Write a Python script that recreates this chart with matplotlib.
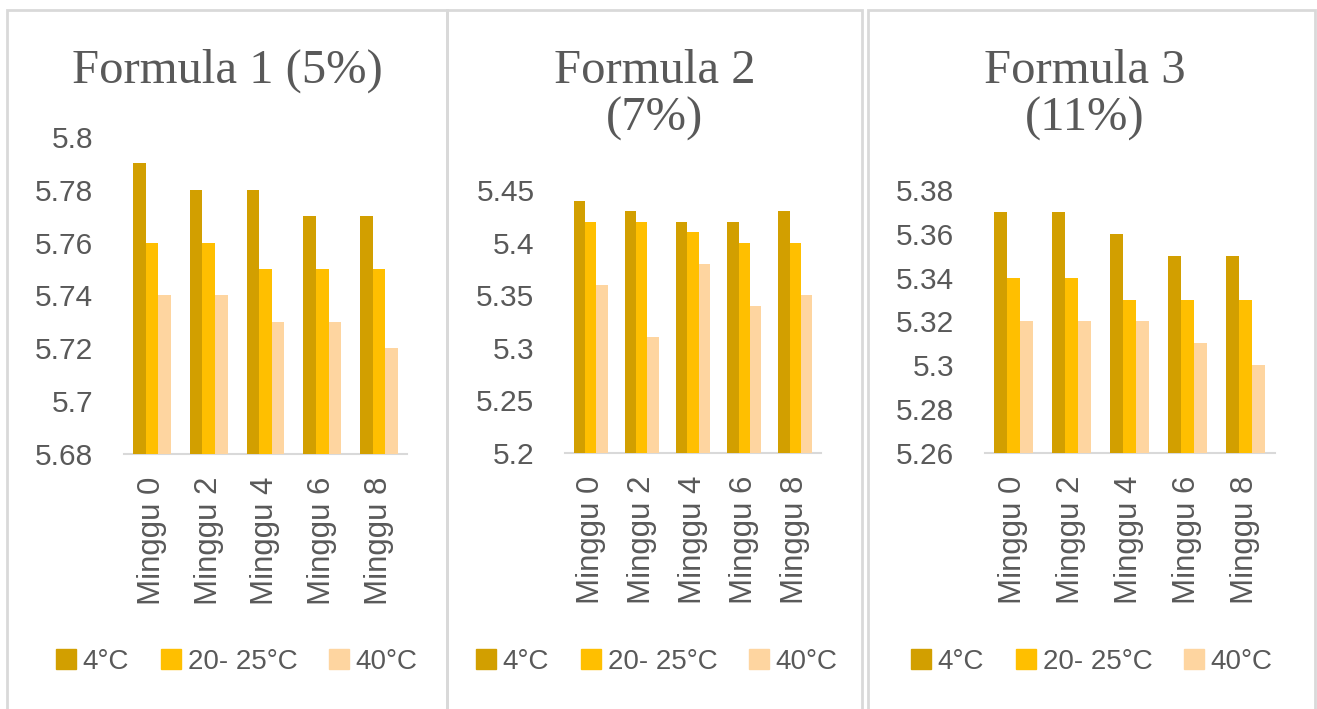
import matplotlib
matplotlib.use('Agg')
import matplotlib.pyplot as plt
import matplotlib.patches as patches
from matplotlib.lines import Line2D
import numpy as np

# data
weeks = ['Minggu 0', 'Minggu 2', 'Minggu 4', 'Minggu 6', 'Minggu 8']
series_names = ['4°C', '20- 25°C', '40°C']
titles = ['Formula 1 (5%)', 'Formula 2\n(7%)', 'Formula 3\n(11%)']

f1_4c = [5.79, 5.78, 5.78, 5.77, 5.77]
f1_room = [5.76, 5.76, 5.75, 5.75, 5.75]
f1_40c = [5.74, 5.74, 5.73, 5.73, 5.72]

f2_4c = [5.44, 5.43, 5.42, 5.42, 5.43]
f2_room = [5.42, 5.42, 5.41, 5.40, 5.40]
f2_40c = [5.36, 5.31, 5.38, 5.34, 5.35]

f3_4c = [5.37, 5.37, 5.36, 5.35, 5.35]
f3_room = [5.34, 5.34, 5.33, 5.33, 5.33]
f3_40c = [5.32, 5.32, 5.32, 5.31, 5.30]

y_ticks = [
    [5.68, 5.70, 5.72, 5.74, 5.76, 5.78, 5.80],
    [5.20, 5.25, 5.30, 5.35, 5.40, 5.45],
    [5.26, 5.28, 5.30, 5.32, 5.34, 5.36, 5.38],
]
y_tick_labels = [
    ['5.68', '5.7', '5.72', '5.74', '5.76', '5.78', '5.8'],
    ['5.2', '5.25', '5.3', '5.35', '5.4', '5.45'],
    ['5.26', '5.28', '5.3', '5.32', '5.34', '5.36', '5.38'],
]

panels = [
    (f1_4c, f1_room, f1_40c),
    (f2_4c, f2_room, f2_40c),
    (f3_4c, f3_room, f3_40c),
]

colors = ['#D29F00', '#FFBF00', '#FED5A0']
text_gray = '#595959'
border_gray = '#D9D9D9'

W, H = 1317, 709
fig = plt.figure(figsize=(W / 100, H / 100), dpi=100)


def px_box(x0, x1, y_top, y_bot):
    # pixel box (from top-left) -> figure fraction rect
    return [x0 / W, 1 - y_bot / H, (x1 - x0) / W, (y_bot - y_top) / H]


# panel frames (pixel coords)
frames = [(7, 447), (447, 862), (868, 1315)]
for x0, x1 in frames:
    rect = patches.Rectangle((x0 / W, -0.05), (x1 - x0) / W, 1.05 - 10 / H,
                             transform=fig.transFigure, fill=False,
                             edgecolor=border_gray, linewidth=2)
    fig.patches.append(rect)

# plot areas (pixel coords): x0, x1, y of top tick, y of bottom tick
areas = [(123.6, 407.4, 137, 454), (565, 821, 190, 453), (984.5, 1274.5, 190, 453)]
title_x = [227, 655, 1085]
legend_x = [235, 655, 1090]

bar_w = 0.222
x = np.arange(len(weeks))

for i, (vals, area) in enumerate(zip(panels, areas)):
    ax = fig.add_axes(px_box(*area))
    for j, v in enumerate(vals):
        base = y_ticks[i][0]
        ax.bar(x + (j - 1) * bar_w, np.array(v) - base, bottom=base,
               width=bar_w, color=colors[j], linewidth=0, label=series_names[j])
    ax.set_xlim(-0.5, len(weeks) - 0.5)
    ax.set_ylim(y_ticks[i][0], y_ticks[i][-1])
    ax.set_yticks(y_ticks[i])
    ax.set_yticklabels(y_tick_labels[i], fontsize=21.5, color=text_gray,
                       family='Liberation Sans')
    ax.set_xticks(x)
    ax.set_xticklabels(weeks, rotation=90, fontsize=22.5, color=text_gray,
                       family='Liberation Sans')
    ax.tick_params(axis='y', length=0, pad=22)
    ax.tick_params(axis='x', length=0, pad=16)
    for s in ['top', 'left', 'right']:
        ax.spines[s].set_visible(False)
    ax.spines['bottom'].set_color(border_gray)
    ax.spines['bottom'].set_linewidth(1.5)
    ax.spines['bottom'].set_zorder(0)
    ax.set_facecolor('none')

    fig.text(title_x[i] / W, 1 - 49 / H, titles[i], ha='center', va='top',
             fontsize=35, color=text_gray, family='Liberation Serif',
             linespacing=1.1)

    handles = [Line2D([], [], marker='s', linestyle='none', markersize=14,
                      markerfacecolor=c, markeredgecolor=c) for c in colors]
    fig.legend(handles, series_names, loc='center',
               bbox_to_anchor=(legend_x[i] / W, 1 - 662 / H), ncol=3,
               frameon=False, handletextpad=0.1, columnspacing=1.0,
               handlelength=1.0,
               prop={'family': 'Liberation Sans', 'size': 20},
               labelcolor=text_gray)

fig.savefig('out.png', dpi=100, facecolor='white')
